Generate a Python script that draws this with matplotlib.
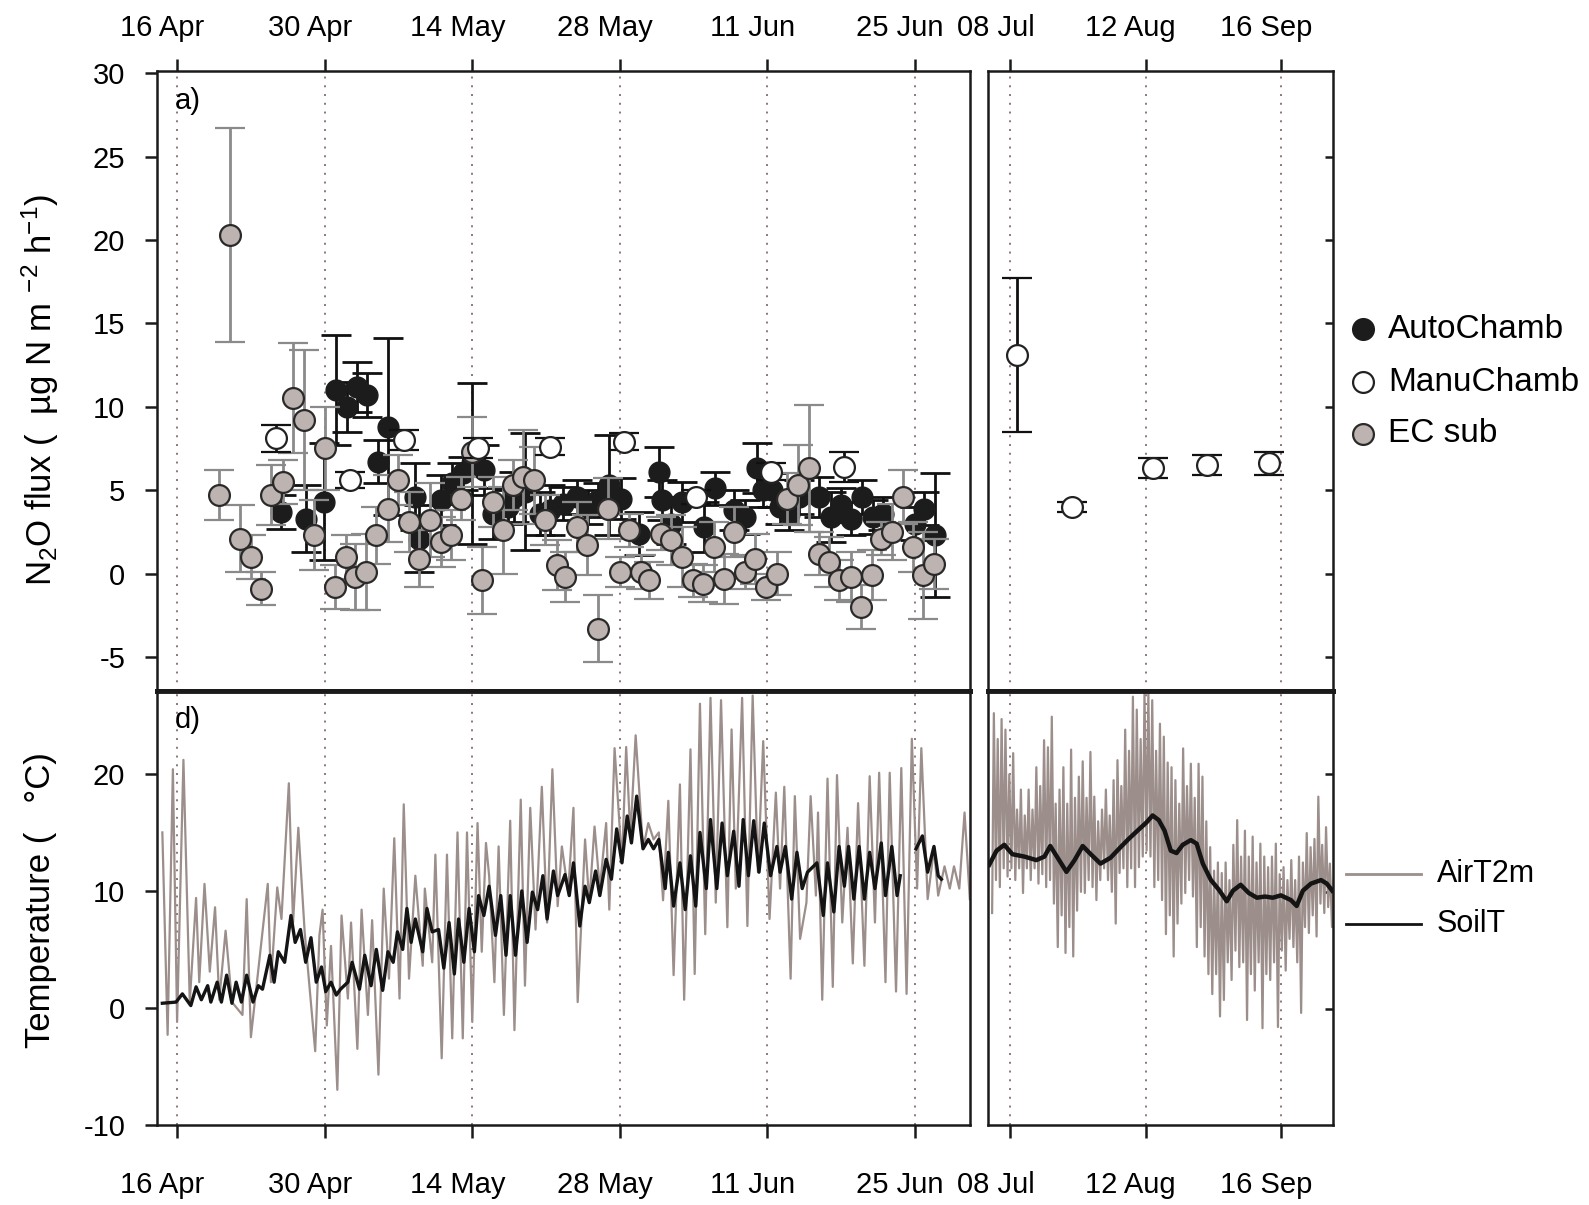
import matplotlib
matplotlib.use("Agg")
import matplotlib.pyplot as plt
import numpy as np
from matplotlib.lines import Line2D
from matplotlib.transforms import ScaledTranslation

plt.rcParams['font.family'] = ['Liberation Sans', 'DejaVu Sans']
plt.rcParams['mathtext.fontset'] = 'custom'
plt.rcParams['mathtext.rm'] = 'Liberation Sans'
plt.rcParams['mathtext.it'] = 'Liberation Sans:italic'
plt.rcParams['axes.unicode_minus'] = False

# ---------------- data (day of year) ----------------
tick_days_left = [106, 120, 134, 148, 162, 176]
tick_labels_left = ['16 Apr', '30 Apr', '14 May', '28 May', '11 Jun', '25 Jun']
tick_days_right = [189, 224, 259]
tick_labels_right = ['08 Jul', '12 Aug', '16 Sep']

ec_day = [110.0, 111.0, 112.0, 113.0, 114.0, 114.9, 116.0, 117.0, 118.0, 119.0, 120.0, 121.0, 122.0,
          122.9, 123.9, 124.9, 126.0, 127.0, 128.0, 128.9, 130.0, 131.0, 132.0, 132.9, 134.0, 134.9,
          136.0, 136.9, 137.9, 138.8, 139.9, 140.9, 142.0, 142.8, 143.9, 144.9, 145.9, 146.9, 148.0,
          148.9, 150.0, 150.8, 151.9, 152.9, 153.9, 154.9, 155.9, 156.9, 157.9, 158.8, 159.9, 160.8,
          161.9, 162.9, 163.9, 164.9, 165.9, 166.9, 167.85, 168.8, 169.9, 170.9, 171.9, 172.8, 173.8,
          174.9, 175.8, 176.8, 177.8]
ec_val = [4.7, 20.3, 2.1, 1.0, -0.9, 4.7, 5.5, 10.5, 9.2, 2.3, 7.5, -0.8, 1.0,
          -0.2, 0.1, 2.3, 3.9, 5.6, 3.1, 0.9, 3.2, 1.9, 2.3, 4.5, 7.3, -0.4,
          4.3, 2.6, 5.3, 5.8, 5.6, 3.2, 0.5, -0.2, 2.8, 1.7, -3.3, 3.9, 0.1,
          2.6, 0.1, -0.4, 2.4, 2.0, 1.0, -0.4, -0.6, 1.6, -0.3, 2.5, 0.1, 0.9,
          -0.8, 0.0, 4.5, 5.3, 6.3, 1.2, 0.7, -0.4, -0.2, -2.0, -0.1, 2.1, 2.5,
          4.6, 1.6, -0.1, 0.6]
ec_err = [1.5, 6.4, 2.0, 1.3, 1.0, 1.8, 1.3, 3.3, 4.2, 2.1, 2.5, 1.3, 1.3,
          2.0, 2.3, 1.7, 2.0, 1.5, 1.8, 1.7, 2.2, 1.5, 1.5, 1.3, 2.1, 2.0,
          1.5, 2.6, 1.5, 2.8, 2.0, 1.5, 1.5, 1.5, 1.5, 1.8, 2.0, 1.8, 0.9,
          1.0, 1.0, 1.1, 1.0, 1.5, 1.8, 1.0, 1.1, 1.5, 1.5, 1.5, 1.0, 1.5,
          0.8, 1.3, 1.5, 2.4, 3.8, 1.3, 1.5, 1.2, 1.5, 1.3, 1.5, 1.0, 1.7,
          1.6, 1.5, 2.6, 1.5]

auto_day = [115.9, 118.2, 119.9, 121.1, 122.1, 123.1, 124.0, 125.1, 126.0, 128.6, 128.9, 131.0, 132.1,
            133.1, 134.0, 135.1, 136.0, 137.4, 138.0, 139.0, 140.4, 141.4, 142.6, 143.9, 145.0, 145.9,
            147.0, 148.1, 149.8, 151.7, 152.0, 152.9, 153.9, 156.0, 157.0, 158.8, 159.9, 161.0, 161.6,
            162.4, 163.2, 164.0, 165.0, 166.9, 168.0, 169.0, 169.9, 171.0, 172.0, 172.95, 176.0, 176.9,
            177.9]
auto_val = [3.7, 3.3, 4.3, 11.0, 10.0, 11.2, 10.7, 6.7, 8.8, 4.6, 2.1, 4.4, 5.4,
            6.0, 6.6, 6.2, 3.6, 4.0, 4.6, 4.9, 3.6, 3.8, 4.2, 4.6, 4.0, 4.4,
            5.3, 4.5, 2.4, 6.1, 4.4, 3.0, 4.3, 2.8, 5.1, 3.8, 3.4, 6.3, 5.0,
            5.0, 4.0, 3.6, 4.6, 4.6, 3.4, 4.1, 3.3, 4.6, 3.4, 3.6, 3.0, 3.9,
            2.3]
auto_err = [1.0, 2.0, 3.5, 3.3, 1.5, 1.5, 1.3, 1.3, 5.3, 2.0, 2.0, 1.5, 1.2,
            1.0, 4.8, 1.5, 1.5, 1.0, 1.5, 3.5, 1.3, 1.5, 1.0, 1.0, 1.0, 1.0,
            3.0, 1.2, 1.3, 1.5, 1.2, 1.2, 1.2, 1.5, 1.0, 1.2, 1.0, 1.5, 1.0,
            1.0, 1.0, 1.0, 1.0, 1.2, 1.5, 1.0, 1.0, 1.0, 1.0, 1.0, 1.0, 1.0,
            3.7]

manu_day = [115.4, 122.4, 127.5, 134.5, 141.4, 148.4, 155.2, 162.3, 169.3, 190.7, 205.0, 226.0, 240.0, 256.0]
manu_val = [8.1, 5.6, 8.0, 7.5, 7.6, 7.9, 4.6, 6.1, 6.4, 13.1, 4.0, 6.3, 6.5, 6.6]
manu_err = [0.8, 0.5, 0.6, 0.6, 0.5, 0.5, 0.4, 0.5, 0.9, 4.6, 0.3, 0.6, 0.6, 0.7]

# Air temperature, left period (peaks / troughs)
airL_day = [104.6, 105.1, 105.6, 106.0, 106.6, 107.2, 107.8, 108.1, 108.6, 109.1, 109.6, 110.0, 110.6,
            111.2, 112.2, 112.6, 113.0, 114.6, 114.9, 115.5, 115.9, 116.6, 117.0, 117.5, 118.1, 119.1,
            119.5, 119.8, 120.2, 120.6, 121.2, 121.6, 122.2, 122.5, 123.1, 123.5, 124.1, 124.5, 125.1,
            125.6, 126.1, 126.6, 127.1, 127.5, 128.0, 128.6, 129.3, 129.5, 130.2, 130.5, 131.1, 131.6,
            132.1, 132.6, 133.1, 133.5, 134.0, 134.5, 134.9, 135.3, 135.6, 136.1, 136.5, 137.0, 137.6,
            138.0, 138.6, 139.0, 139.5, 140.0, 140.6, 141.1, 141.6, 142.1, 142.5, 143.1, 143.6, 144.0,
            144.7, 145.1, 145.6, 146.1, 146.7, 147.0, 147.5, 148.2, 148.6, 149.0, 149.5, 150.2, 150.7,
            151.2, 151.7, 152.1, 152.6, 153.1, 153.7, 154.1, 154.7, 155.1, 155.6, 156.1, 156.6, 157.1,
            157.6, 158.2, 158.6, 159.0, 159.6, 160.1, 160.6, 161.1, 161.6, 162.2, 162.8, 163.2, 163.6,
            164.2, 164.6, 165.1, 165.7, 166.1, 166.6, 166.8, 167.2, 167.7, 168.2, 168.6, 169.1, 169.6,
            170.1, 170.6, 171.2, 171.7, 172.2, 172.6, 173.2, 173.6, 174.2, 174.7, 175.2, 175.7, 176.2,
            176.6, 177.2, 177.8, 178.2, 178.8, 179.3, 179.7, 180.2, 180.7, 181.2]
airL_val = [15.0, -2.3, 20.4, -1.2, 21.2, 0.5, 9.4, 2.2, 10.6, 3.1, 8.6, 0.7, 6.6,
            0.5, -0.6, 9.3, -2.5, 10.6, 2.2, 10.3, 7.6, 19.2, 7.3, 15.4, 6.5, -3.7,
            6.2, 8.4, -1.5, 5.3, -7.0, 7.9, 0.8, 7.3, -3.5, 8.4, -0.6, 7.5, -5.7,
            10.2, 2.5, 14.5, 0.8, 17.4, 2.5, 11.3, 3.6, 10.2, 3.9, 13.1, -4.3, 13.1,
            -2.6, 15.0, -2.6, 15.0, -1.2, 15.8, 4.8, 14.1, 11.3, 2.2, 13.8, -0.6, 16.0,
            -1.9, 17.8, 1.9, 17.1, 6.7, 18.9, 7.3, 20.4, 8.7, 13.8, 9.9, 17.1, 0.5,
            14.4, 9.0, 15.5, 10.2, 15.8, 8.4, 22.2, 12.4, 22.3, 14.7, 23.3, 13.6, 15.8,
            14.4, 15.0, 9.2, 17.7, 2.8, 19.1, 0.7, 22.1, 2.9, 26.0, 6.3, 26.5, 9.0,
            26.3, 6.9, 23.8, 10.2, 26.5, 7.0, 26.7, 11.6, 22.8, 7.6, 18.4, 10.2, 18.9,
            2.5, 18.1, 5.9, 9.0, 18.1, 9.6, 16.7, 0.7, 19.6, 1.8, 19.9, 7.3, 15.4,
            3.8, 17.5, 3.6, 19.8, 7.3, 20.1, 2.2, 20.1, 1.4, 20.5, 1.2, 23.0, 10.2,
            22.2, 9.3, 13.6, 9.6, 12.1, 10.2, 12.1, 10.2, 16.7, 9.3]

# Soil temperature, left period (two segments)
soilL1_day = [104.6, 105.9, 106.5, 107.3, 107.8, 108.3, 108.9, 109.2, 109.8, 110.2, 110.7, 111.2, 111.6,
              112.1, 112.6, 113.2, 113.7, 114.1, 114.8, 115.2, 115.6, 116.2, 116.8, 117.2, 117.7, 118.2,
              118.7, 119.2, 119.7, 120.1, 120.6, 121.1, 121.5, 122.2, 122.6, 123.3, 123.8, 124.4, 124.9,
              125.5, 126.0, 126.5, 126.9, 127.4, 127.8, 128.2, 128.6, 129.3, 129.7, 130.2, 130.8, 131.3,
              131.8, 132.3, 132.7, 133.2, 133.7, 134.2, 134.6, 135.1, 135.6, 136.2, 136.7, 137.2, 137.6,
              138.1, 138.7, 139.2, 139.7, 140.2, 140.7, 141.1, 141.7, 142.1, 142.8, 143.2, 143.6, 144.2,
              144.7, 145.1, 145.7, 146.1, 146.7, 147.2, 147.7, 148.2, 148.7, 149.1, 149.6, 150.2, 150.7,
              151.2, 151.7, 152.3, 152.6, 153.1, 153.7, 154.2, 154.7, 155.2, 155.6, 156.2, 156.6, 157.2,
              157.7, 158.2, 158.8, 159.3, 159.7, 160.2, 160.7, 161.2, 161.7, 162.3, 162.9, 163.2, 163.7,
              164.3, 164.8, 165.3, 165.8, 166.7, 167.3, 167.7, 168.3, 168.8, 169.3, 169.7, 170.2, 170.7,
              171.2, 171.7, 172.2, 172.8, 173.2, 173.8, 174.3, 174.6]
soilL1_val = [0.4, 0.5, 1.2, 0.2, 1.8, 0.7, 1.9, 0.5, 2.2, 0.5, 2.8, 0.4, 2.2,
              0.5, 2.8, 0.5, 1.9, 1.6, 4.5, 2.2, 4.8, 3.9, 7.9, 5.6, 6.7, 3.9,
              6.0, 2.2, 3.5, 1.4, 2.2, 1.1, 1.6, 2.2, 3.9, 1.6, 4.5, 1.9, 5.0,
              1.5, 4.8, 3.9, 6.5, 5.0, 8.5, 5.6, 7.6, 4.8, 8.5, 6.5, 6.7, 3.4,
              7.3, 2.9, 7.6, 3.9, 8.5, 4.8, 9.6, 7.9, 10.4, 6.2, 9.6, 4.5, 9.6,
              4.5, 10.0, 5.6, 9.9, 8.4, 11.3, 7.6, 11.7, 9.6, 11.4, 9.6, 12.4, 7.0,
              10.4, 9.0, 11.7, 9.6, 12.7, 11.0, 15.3, 12.4, 16.4, 14.1, 18.1, 13.6, 14.4,
              13.6, 14.4, 10.2, 13.3, 8.7, 12.4, 8.4, 13.0, 8.7, 15.0, 10.2, 16.1, 10.2,
              15.8, 11.3, 15.1, 10.4, 16.1, 11.3, 16.0, 11.6, 15.8, 11.3, 13.8, 11.6, 13.8,
              9.3, 13.3, 10.2, 11.6, 12.4, 7.9, 12.4, 8.2, 13.8, 10.4, 13.8, 9.3, 13.8,
              9.3, 13.3, 10.2, 14.1, 9.6, 13.8, 9.6, 11.3]
soilL2_day = [176.1, 176.7, 177.2, 177.8, 178.2, 178.5]
soilL2_val = [13.6, 14.7, 11.6, 13.8, 11.3, 11.0]

# Air temperature, right period: daily minimum / maximum estimated from the figure
airR_days = list(range(184, 273))
airR_max = [25.2, 23.0, 24.7, 23.8, 20.0, 21.8, 17.0, 18.7, 16.5, 18.7, 17.0, 20.6, 19.0, 22.9, 22.3,
            24.9, 17.5, 18.7, 20.6, 17.5, 22.1, 18.0, 19.8, 21.1, 18.0, 21.9, 18.1, 16.0, 17.0, 18.7,
            16.5, 19.5, 21.2, 19.0, 23.8, 22.0, 26.6, 25.5, 23.0, 26.9, 26.9, 26.3, 22.0, 24.3, 23.2,
            21.0, 20.6, 19.5, 17.5, 22.2, 19.0, 20.9, 18.0, 20.9, 19.8, 16.0, 13.8, 11.8, 12.5, 11.6,
            12.5, 11.0, 14.0, 16.1, 13.0, 15.2, 13.0, 14.7, 12.5, 14.1, 13.0, 12.1, 13.0, 14.1, 11.5,
            12.1, 11.0, 12.7, 11.0, 13.0, 12.5, 15.0, 13.8, 14.5, 18.1, 14.0, 15.5, 12.4, 11.0]
airR_min = [8.2, 11.0, 10.4, 12.0, 11.3, 12.0, 11.0, 12.0, 9.9, 12.0, 11.0, 12.0, 10.7, 11.5, 10.4,
            11.0, 9.0, 5.3, 8.0, 4.8, 7.0, 4.5, 8.4, 10.0, 9.9, 11.0, 10.4, 9.3, 11.0, 12.0,
            11.0, 10.0, 7.3, 11.6, 12.0, 10.4, 12.0, 10.4, 12.1, 13.0, 13.5, 13.0, 10.4, 11.0, 9.3,
            6.4, 8.0, 4.5, 7.3, 9.0, 9.9, 11.0, 9.6, 5.3, 7.0, 4.5, 3.0, 1.3, 3.0, -0.6,
            0.8, 4.0, 2.5, 5.0, 3.6, 4.0, -0.9, 3.0, 1.6, 4.0, -1.6, 3.0, 2.5, 4.0, -1.5,
            5.0, 3.3, 6.0, 5.3, 4.0, -0.3, 7.0, 6.5, 8.0, 6.2, 9.0, 8.2, 8.7, 7.0]

soilR_day = [183.5, 185.4, 187.4, 189.5, 192.6, 195.7, 197.8, 199.3, 201.4, 203.5, 205.6, 207.7, 209.8,
             212.3, 214.9, 217.5, 219.6, 222.2, 224.2, 225.8, 227.4, 228.9, 230.5, 232.0, 233.6, 235.7,
             237.2, 238.8, 240.9, 242.9, 245.0, 246.6, 248.6, 250.7, 252.8, 254.9, 256.9, 259.0, 261.6,
             263.1, 264.7, 266.8, 269.4, 270.9, 272.3]
soilR_val = [12.3, 13.5, 14.0, 13.2, 13.0, 12.7, 13.0, 13.9, 12.8, 11.7, 12.7, 13.9, 13.2,
             12.4, 12.9, 13.8, 14.5, 15.3, 15.9, 16.5, 16.1, 15.2, 13.5, 13.3, 14.0, 14.4,
             14.1, 12.4, 11.0, 10.2, 9.2, 10.1, 10.6, 9.9, 9.5, 9.6, 9.5, 9.7, 9.3,
             8.8, 10.1, 10.7, 11.0, 10.7, 10.1]

# ---------------- styling ----------------
C_AIR = '#9c8e8a'
C_SOIL = '#141414'
C_EC = '#bdb3b0'
C_GRID = '#8c7676'
FS = 21
FS_LAB = 25
FS_LEG = 24

fig = plt.figure(figsize=(15.89, 12.05), dpi=100)
W, H = 1568.0, 1189.0
def ax_at(x0, x1, y0, y1):
    return fig.add_axes([x0 / W, 1 - y1 / H, (x1 - x0) / W, (y1 - y0) / H])

axTL = ax_at(155, 957, 70, 682)
axTR = ax_at(975, 1315, 70, 682)
axBL = ax_at(155, 957, 682, 1110)
axBR = ax_at(975, 1315, 682, 1110)

xl_left = (104.1, 181.2)
xl_right = (183.2, 272.4)
yl_top = (-7.05, 30.13)
yl_bot = (-9.83, 27.07)

shift = ScaledTranslation(-15 / 100.0, 0, fig.dpi_scale_trans)

for ax in (axTL, axTR, axBL, axBR):
    for s in ax.spines.values():
        s.set_linewidth(1.8)
        s.set_color('#1a1a1a')
    ax.tick_params(labelsize=FS, width=1.8, length=9, color='#1a1a1a')

for ax, xl, td in ((axTL, xl_left, tick_days_left), (axBL, xl_left, tick_days_left),
                   (axTR, xl_right, tick_days_right), (axBR, xl_right, tick_days_right)):
    ax.set_xlim(*xl)
    for d in td:
        ax.axvline(d, color=C_GRID, ls=(0, (1, 3.5)), lw=1.4, zorder=0)

for ax in (axTL, axTR):
    ax.set_ylim(*yl_top)
for ax in (axBL, axBR):
    ax.set_ylim(*yl_bot)

for ax, td, tl in ((axTL, tick_days_left, tick_labels_left), (axTR, tick_days_right, tick_labels_right)):
    ax.set_xticks(td)
    ax.set_xticklabels(tl)
    ax.xaxis.set_ticks_position('top')
    ax.tick_params(axis='x', direction='out', pad=12)
    for lbl in ax.get_xticklabels():
        lbl.set_transform(lbl.get_transform() + shift)
    ax.spines['bottom'].set_linewidth(3.5)

for ax, td, tl in ((axBL, tick_days_left, tick_labels_left), (axBR, tick_days_right, tick_labels_right)):
    ax.set_xticks(td)
    ax.set_xticklabels(tl)
    ax.xaxis.set_ticks_position('bottom')
    ax.tick_params(axis='x', direction='out', pad=24)
    for lbl in ax.get_xticklabels():
        lbl.set_transform(lbl.get_transform() + shift)
    ax.spines['top'].set_linewidth(3.5)

axTL.set_yticks([-5, 0, 5, 10, 15, 20, 25, 30])
axTL.set_yticklabels(['-5', '0', '5', '10', '15', '20', '25', '30'])
axTL.tick_params(axis='y', direction='out', pad=14)
axBL.set_yticks([-10, 0, 10, 20])
axBL.set_yticklabels(['-10', '0', '10', '20'])
axBL.tick_params(axis='y', direction='out', pad=14)
axTR.set_yticks([-5, 0, 5, 10, 15, 20, 25])
axBR.set_yticks([0, 10, 20])
for ax in (axTR, axBR):
    ax.yaxis.set_ticks_position('right')
    ax.tick_params(axis='y', direction='in', length=6, labelright=False, labelleft=False)

# ---------------- top panels: fluxes ----------------
ek = dict(elinewidth=2.0, capthick=2.0, capsize=11)
axTL.errorbar(auto_day, auto_val, yerr=auto_err, fmt='o', ms=15, mfc='#1c1c1c', mec='#1c1c1c',
              ecolor='#111111', zorder=3, **ek)
axTL.errorbar(ec_day, ec_val, yerr=ec_err, fmt='o', ms=15, mfc=C_EC, mec='#2a2a2a', mew=1.6,
              ecolor='#8a8a8a', zorder=4, **ek)
md = np.array(manu_day); mv = np.array(manu_val); me = np.array(manu_err)
left_m = md < 182
axTL.errorbar(md[left_m], mv[left_m], yerr=me[left_m], fmt='o', ms=15, mfc='white', mec='#222222',
              mew=1.6, ecolor='#111111', zorder=5, **ek)
axTR.errorbar(md[~left_m], mv[~left_m], yerr=me[~left_m], fmt='o', ms=15, mfc='white', mec='#222222',
              mew=1.6, ecolor='#111111', zorder=5, **ek)

# ---------------- bottom panels: temperature ----------------
axBL.plot(airL_day, airL_val, color=C_AIR, lw=1.6, zorder=2)
axBL.plot(soilL1_day, soilL1_val, color=C_SOIL, lw=2.4, zorder=3)
axBL.plot(soilL2_day, soilL2_val, color=C_SOIL, lw=2.4, zorder=3)

rd = np.array(airR_days, dtype=float)
airR_t = np.column_stack([rd + 0.25, rd + 0.7]).ravel()
airR_v = np.column_stack([airR_min, airR_max]).ravel()
axBR.plot(airR_t, airR_v, color=C_AIR, lw=1.6, zorder=2)
axBR.plot(soilR_day, soilR_val, color=C_SOIL, lw=3.2, zorder=3)

# panel labels
fig.text(172 / W, 1 - 100 / H, 'a)', fontsize=FS, va='center', ha='left')
fig.text(172 / W, 1 - 710 / H, 'd)', fontsize=FS, va='center', ha='left')

# y labels
fig.text(40 / W, 1 - 385 / H, 'N$_2$O flux (  \u00b5g N m $^{-2}$ h$^{-1}$)', rotation=90,
         fontsize=FS_LAB, va='center', ha='center')
fig.text(40 / W, 1 - 888 / H, 'Temperature (   \u00b0C)', rotation=90,
         fontsize=FS_LAB, va='center', ha='center')

# legends (top)
leg_items = [('AutoChamb', '#1c1c1c', '#1c1c1c', 325),
             ('ManuChamb', 'white', '#222222', 377),
             ('EC sub', C_EC, '#2a2a2a', 428)]
for lab, fc, ec, yy in leg_items:
    fig.add_artist(Line2D([1345 / W], [1 - yy / H], marker='o', ms=15, mfc=fc, mec=ec, mew=1.6,
                          ls='none', transform=fig.transFigure))
    fig.text(1370 / W, 1 - yy / H, lab, fontsize=FS_LEG, va='center', ha='left')

# legend (bottom)
for lab, col, yy in (('AirT2m', C_AIR, 862), ('SoilT', C_SOIL, 912)):
    fig.add_artist(Line2D([1328 / W, 1402 / W], [1 - yy / H, 1 - yy / H], color=col, lw=2,
                          transform=fig.transFigure))
    fig.text(1418 / W, 1 - yy / H, lab, fontsize=FS + 1, va='center', ha='left')

fig.savefig('out.png', dpi=100)
